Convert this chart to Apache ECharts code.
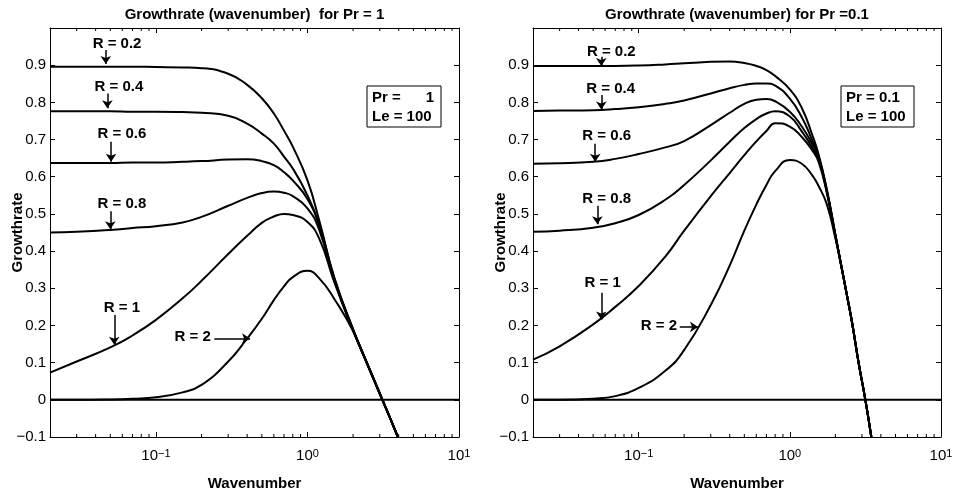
<!DOCTYPE html>
<html><head><meta charset="utf-8">
<script src="https://cdn.jsdelivr.net/npm/echarts@6/dist/echarts.min.js"></script>
<style>html,body{margin:0;padding:0;background:#fff}#c{width:956px;height:497px}</style>
</head><body><div id="c"></div>
<script>
const FONT = '"Liberation Sans", Arial, Helvetica, sans-serif';
const Y_MIN = -0.1, Y_MAX = 1.0, Y_STEP = 0.1;
const X_MIN = 0.02, X_MAX = 10;
const MINOR_TICKS = [0.03,0.04,0.05,0.06,0.07,0.08,0.09,0.2,0.3,0.4,0.5,0.6,0.7,0.8,0.9,2,3,4,5,6,7,8,9];

// ---- Left panel: Pr = 1 ----
const K_LEFT = [0.02,0.03,0.05,0.07,0.1,0.15,0.2,0.3,0.4,0.5,0.6,0.7,0.8,1.0,1.2,1.5,2,2.5,3,3.5,3.95];
const R02_LEFT = [0.896,0.896,0.896,0.896,0.895,0.894,0.892,0.877,0.847,0.811,0.770,0.724,0.681,0.590,0.480,0.330,0.190,0.094,0.017,-0.048,-0.1];
const R04_LEFT = [0.776,0.776,0.776,0.775,0.775,0.774,0.772,0.764,0.743,0.716,0.689,0.654,0.622,0.550,0.470,0.328,0.189,0.094,0.017,-0.048,-0.1];
const R06_LEFT = [0.637,0.637,0.637,0.638,0.638,0.640,0.642,0.646,0.647,0.642,0.631,0.612,0.590,0.540,0.465,0.325,0.188,0.094,0.017,-0.048,-0.1];
const R08_LEFT = [0.450,0.452,0.457,0.462,0.467,0.477,0.492,0.522,0.543,0.556,0.560,0.557,0.548,0.515,0.455,0.322,0.187,0.094,0.017,-0.048,-0.1];
const R1_LEFT  = [0.073,0.103,0.141,0.173,0.215,0.273,0.320,0.392,0.441,0.476,0.493,0.500,0.497,0.478,0.432,0.318,0.186,0.093,0.017,-0.048,-0.1];
const R2_LEFT  = [0.000,0.000,0.001,0.003,0.007,0.020,0.040,0.103,0.165,0.218,0.268,0.305,0.330,0.347,0.326,0.272,0.185,0.092,0.016,-0.048,-0.1];

// ---- Right panel: Pr = 0.1 ----
const K_RIGHT = [0.02,0.03,0.05,0.07,0.1,0.15,0.2,0.3,0.4,0.5,0.6,0.7,0.8,1.0,1.2,1.4,1.55,1.76,2.0,2.15,2.4,2.58,2.85,3.16,3.46];
const R02_RIGHT = [0.898,0.898,0.898,0.898,0.899,0.902,0.905,0.909,0.910,0.906,0.898,0.887,0.871,0.835,0.785,0.715,0.660,0.565,0.445,0.378,0.276,0.208,0.100,0.000,-0.100];
const R04_RIGHT = [0.777,0.778,0.779,0.782,0.787,0.796,0.805,0.824,0.838,0.847,0.851,0.851,0.845,0.810,0.760,0.700,0.655,0.562,0.444,0.378,0.276,0.208,0.100,0.000,-0.100];
const R06_RIGHT = [0.635,0.636,0.640,0.648,0.661,0.679,0.696,0.739,0.772,0.796,0.807,0.809,0.803,0.775,0.735,0.690,0.650,0.560,0.443,0.377,0.276,0.208,0.100,0.000,-0.100];
const R08_RIGHT = [0.452,0.455,0.463,0.475,0.497,0.538,0.578,0.644,0.694,0.731,0.755,0.770,0.776,0.762,0.722,0.680,0.645,0.558,0.442,0.377,0.276,0.208,0.100,0.000,-0.100];
const R1_RIGHT  = [0.108,0.144,0.203,0.250,0.306,0.385,0.455,0.548,0.610,0.658,0.695,0.723,0.744,0.735,0.707,0.672,0.640,0.555,0.440,0.376,0.276,0.208,0.100,0.000,-0.100];
const R2_RIGHT  = [0.000,0.000,0.003,0.010,0.032,0.078,0.134,0.255,0.361,0.455,0.525,0.578,0.615,0.645,0.635,0.605,0.575,0.525,0.435,0.375,0.276,0.208,0.100,0.000,-0.100];

// ---- Annotations (data coordinates) ----
const LABEL_NAMES = ['R = 0.2','R = 0.4','R = 0.6','R = 0.8','R = 1','R = 2'];
const LABEL_POS_LEFT  = [[0.0554,0.957],[0.057,0.842],[0.0597,0.714],[0.0597,0.527],[0.0597,0.246],[0.175,0.169]];
const ARROWS_LEFT = [[[0.0467,0.941],[0.0467,0.903]],[[0.0478,0.824],[0.0478,0.784]],[[0.0506,0.694],[0.0506,0.640]],[[0.050,0.507],[0.050,0.459]],[[0.0531,0.228],[0.0531,0.148]],[[0.243,0.165],[0.418,0.165]]];
const LABEL_POS_RIGHT = [[0.0659,0.937],[0.0653,0.836],[0.0615,0.710],[0.0615,0.540],[0.0578,0.315],[0.136,0.198]];
const ARROWS_RIGHT = [[[0.0566,0.923],[0.0566,0.898]],[[0.0566,0.820],[0.0566,0.781]],[[0.0516,0.689],[0.0516,0.640]],[[0.0533,0.522],[0.0533,0.472]],[[0.0566,0.288],[0.0566,0.216]],[[0.187,0.196],[0.247,0.196]]];

const TITLES = ['Growthrate (wavenumber)  for Pr = 1', 'Growthrate (wavenumber) for Pr =0.1'];
const BOX_TEXT = [['Pr =      1','Le = 100'], ['Pr = 0.1','Le = 100']];

const GRIDS = [
  {left:50, top:28, width:409, height:409},
  {left:533, top:28, width:408, height:409}
];

function pairs(ks, ys){ return ks.map((k,i)=>[k, ys[i]]); }

function xLabel(v){
  const lg = Math.log10(v);
  const e = Math.round(lg);
  if (Math.abs(lg - e) > 1e-6) return '';
  return '{b|10}{s|' + (e < 0 ? '\u2212' + (-e) : String(e)) + '}';
}
function yLabel(v){
  if (v > Y_MAX - Y_STEP/2) return '';
  const r = Math.round(v*10)/10;
  if (Math.abs(r) < 1e-9) return '0';
  return r < 0 ? '\u2212' + Math.abs(r).toFixed(1) : r.toFixed(1);
}

const xAxes = [], yAxes = [];
[0,1].forEach(g=>{
  const common = {type:'log', logBase:10, min:X_MIN, max:X_MAX, gridIndex:g,
    splitLine:{show:false}, minorTick:{show:false},
    axisLine:{onZero:false, lineStyle:{color:'#000', width:1}},
    axisTick:{inside:true, length:5, lineStyle:{color:'#000', width:1}}};
  xAxes.push(Object.assign({}, common, {position:'bottom',
    name:'Wavenumber', nameLocation:'middle', nameGap:39, nameMoveOverlap:false,
    nameTextStyle:{fontFamily:FONT, fontWeight:'bold', fontSize:15, color:'#000'},
    axisLabel:{formatter:xLabel, margin:11, color:'#000', fontFamily:FONT,
      rich:{b:{fontSize:15, lineHeight:15, fontFamily:FONT, color:'#000', verticalAlign:'bottom'},
            s:{fontSize:11, lineHeight:11, fontFamily:FONT, color:'#000', verticalAlign:'top', padding:[0,0,11,0]}}}}));
  xAxes.push(Object.assign({}, common, {position:'top', axisLabel:{show:false}}));
  const ycommon = {type:'value', min:Y_MIN, max:Y_MAX, interval:Y_STEP, gridIndex:g,
    splitLine:{show:false},
    axisLine:{onZero:false, lineStyle:{color:'#000', width:1}},
    axisTick:{inside:true, length:5, lineStyle:{color:'#000', width:1}}};
  yAxes.push(Object.assign({}, ycommon, {position:'left',
    name:'Growthrate', nameLocation:'middle', nameGap:25, nameMoveOverlap:false,
    nameTextStyle:{fontFamily:FONT, fontWeight:'bold', fontSize:15, color:'#000'},
    axisLabel:{formatter:yLabel, margin:4, fontSize:15, fontFamily:FONT, color:'#000'}}));
  yAxes.push(Object.assign({}, ycommon, {position:'right', axisLabel:{show:false}}));
});

const series = [];
function curve(g, ks, ys){
  series.push({type:'line', xAxisIndex:2*g, yAxisIndex:2*g, data:pairs(ks, ys),
    showSymbol:false, smooth:0.5, clip:true, silent:true,
    lineStyle:{color:'#000', width:2}});
}
const PANELS = [
  {ks:K_LEFT, curves:[R02_LEFT,R04_LEFT,R06_LEFT,R08_LEFT,R1_LEFT,R2_LEFT], labels:LABEL_POS_LEFT, arrows:ARROWS_LEFT},
  {ks:K_RIGHT, curves:[R02_RIGHT,R04_RIGHT,R06_RIGHT,R08_RIGHT,R1_RIGHT,R2_RIGHT], labels:LABEL_POS_RIGHT, arrows:ARROWS_RIGHT}
];
PANELS.forEach((p,g)=>{
  p.curves.forEach(ys=>curve(g, p.ks, ys));
  // zero line, with the annotation arrows as markLine
  series.push({type:'line', xAxisIndex:2*g, yAxisIndex:2*g, data:[[X_MIN,0],[X_MAX,0]],
    showSymbol:false, silent:true, lineStyle:{color:'#000', width:2},
    markLine:{silent:true, symbol:['none','arrow'], symbolSize:8, label:{show:false},
      lineStyle:{color:'#000', width:1.5, type:'solid', opacity:1}, emphasis:{disabled:true},
      data:p.arrows.map(a=>[{coord:a[0]},{coord:a[1]}])}});
  // text labels
  series.push({type:'scatter', xAxisIndex:2*g, yAxisIndex:2*g, silent:true, symbolSize:1,
    itemStyle:{color:'rgba(0,0,0,0)'},
    data:p.labels.map((c,i)=>({value:c, name:LABEL_NAMES[i]})),
    label:{show:true, position:'inside', formatter:'{b}', color:'#000', textBorderWidth:0, opacity:1,
      fontFamily:FONT, fontWeight:'bold', fontSize:15}});
  // minor log ticks (bottom and top)
  series.push({type:'custom', xAxisIndex:2*g, yAxisIndex:2*g, silent:true, clip:false,
    data:MINOR_TICKS.map(k=>[k, 0]),
    encode:{x:0, y:1},
    renderItem:(params, api)=>{
      const k = api.value(0);
      const pb = api.coord([k, Y_MIN]);
      const pt = api.coord([k, Y_MAX]);
      return {type:'group', children:[
        {type:'line', shape:{x1:pb[0], y1:pb[1], x2:pb[0], y2:pb[1]-3}, style:{stroke:'#000', lineWidth:1}},
        {type:'line', shape:{x1:pt[0], y1:pt[1], x2:pt[0], y2:pt[1]+3}, style:{stroke:'#000', lineWidth:1}}
      ]};
    }});
});

const graphic = [];
GRIDS.forEach((gr,g)=>{
  graphic.push({type:'text', x:gr.left + gr.width/2, y:15, style:{text:TITLES[g], font:'bold 15px ' + FONT, fill:'#000', align:'center', verticalAlign:'middle'}});
});
const BOXES = [{x:367, y:86, w:74, h:41}, {x:841, y:86, w:73, h:41}];
BOXES.forEach((b,g)=>{
  graphic.push({type:'rect', shape:{x:b.x, y:b.y, width:b.w, height:b.h}, style:{fill:'#fff', stroke:'#000', lineWidth:1}, z:10});
  graphic.push({type:'text', x:b.x+5, y:b.y+11.5, z:11, style:{text:BOX_TEXT[g][0], font:'bold 15px ' + FONT, fill:'#000', align:'left', verticalAlign:'middle'}});
  graphic.push({type:'text', x:b.x+5, y:b.y+30.5, z:11, style:{text:BOX_TEXT[g][1], font:'bold 15px ' + FONT, fill:'#000', align:'left', verticalAlign:'middle'}});
});

const chart = echarts.init(document.getElementById('c'), null, {renderer:'canvas'});
chart.setOption({
  animation:false,
  backgroundColor:'#fff',
  grid:GRIDS.map(g=>Object.assign({containLabel:false, outerBoundsMode:'none'}, g)),
  xAxis:xAxes, yAxis:yAxes, series:series, graphic:graphic
});
</script></body></html>
